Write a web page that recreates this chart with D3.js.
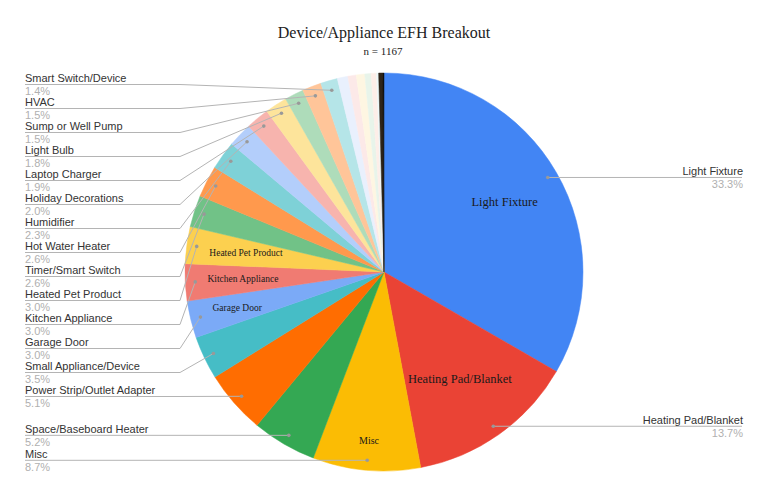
<!DOCTYPE html>
<html>
<head>
<meta charset="utf-8">
<script src="https://cdn.jsdelivr.net/npm/d3@7"></script>
<style>
  body { margin: 0; background: #fff; }
  svg { display: block; }
</style>
</head>
<body>
<div id="chart"></div>
<script>
// Data (n = 1167)
const categories = [
  "Light Fixture", "Heating Pad/Blanket", "Misc", "Space/Baseboard Heater",
  "Power Strip/Outlet Adapter", "Small Appliance/Device", "Garage Door",
  "Kitchen Appliance", "Heated Pet Product", "Timer/Smart Switch",
  "Hot Water Heater", "Humidifier", "Holiday Decorations", "Laptop Charger",
  "Light Bulb", "Sump or Well Pump", "HVAC", "Smart Switch/Device",
  "", "", "", "", "", "", "", ""
];
const counts = [
  389, 160, 102, 61, 60, 41, 35, 35, 35, 30, 30, 27, 23, 22, 21, 18, 18, 16,
  10, 8, 8, 6, 5, 2, 4, 1
];
const colors = [
  "#4285f4", "#ea4335", "#fbbc04", "#34a853", "#ff6d01", "#46bdc6", "#7baaf7",
  "#f07b72", "#fcd04f", "#71c287", "#ff994d", "#7ed1d7", "#b3cefb", "#f7b4ae",
  "#fde49b", "#aedcba", "#ffc599", "#b5e5e8",
  "#e9f0fd", "#fce9e8", "#fef6e2", "#e8f4ea", "#fdeee8", "#edf8f9", "#2e2418", "#111111"
];
const title = "Device/Appliance EFH Breakout";
const subtitle = "n = 1167";

// labels drawn inside slices: radius fraction and font size
const insideLabels = {
  "Light Fixture": { r: 0.70, size: 12.5 },
  "Heating Pad/Blanket": { r: 0.66, size: 12.5 },
  "Misc": { r: 0.85, size: 10 },
  "Heated Pet Product": { r: 0.70, size: 9.5 },
  "Kitchen Appliance": { r: 0.71, size: 9.5 },
  "Garage Door": { r: 0.76, size: 9.5 }
};

const width = 768, height = 497;
const cx = 384, cy = 272, radius = 199;
const total = d3.sum(counts);

const svg = d3.select("#chart").append("svg")
  .attr("width", width)
  .attr("height", height);

svg.append("text")
  .attr("x", 384).attr("y", 32)
  .attr("text-anchor", "middle")
  .attr("dominant-baseline", "central")
  .style("font-family", "'Liberation Serif', 'Times New Roman', serif")
  .style("font-size", "16px")
  .style("fill", "#222")
  .text(title);

svg.append("text")
  .attr("x", 383).attr("y", 51)
  .attr("text-anchor", "middle")
  .attr("dominant-baseline", "central")
  .style("font-family", "'Liberation Serif', 'Times New Roman', serif")
  .style("font-size", "11px")
  .style("fill", "#222")
  .text(subtitle);

const data = categories.map((c, i) => ({ name: c, value: counts[i], color: colors[i] }));

const pie = d3.pie().sort(null).value(d => d.value);
const arcs = pie(data);
const arc = d3.arc().innerRadius(0).outerRadius(radius);
const dotArc = d3.arc().innerRadius(radius * 0.95).outerRadius(radius * 0.95);

const g = svg.append("g").attr("transform", `translate(${cx},${cy})`);

g.selectAll("path.slice")
  .data(arcs)
  .enter()
  .append("path")
  .attr("class", "slice")
  .attr("d", arc)
  .attr("fill", d => d.data.color)
  .attr("stroke", d => d.data.color)
  .attr("stroke-width", 0.5);

// Inside labels
g.selectAll("text.inside")
  .data(arcs.filter(d => insideLabels[d.data.name]))
  .enter()
  .append("text")
  .attr("class", "inside")
  .attr("transform", d => {
    const r = radius * insideLabels[d.data.name].r;
    const c = d3.arc().innerRadius(r).outerRadius(r).centroid(d);
    return `translate(${c})`;
  })
  .attr("text-anchor", "middle")
  .attr("dominant-baseline", "central")
  .style("font-family", "'Liberation Serif', 'Times New Roman', serif")
  .style("font-size", d => insideLabels[d.data.name].size + "px")
  .style("fill", "#1a1a1a")
  .text(d => d.data.name);

// Outside labels
const labelled = arcs.filter(d => d.data.name !== "");
labelled.forEach(d => {
  const p = dotArc.centroid(d);
  d.dot = [p[0] + cx, p[1] + cy];
  d.mid = (d.startAngle + d.endAngle) / 2;
  d.side = d.mid < Math.PI ? "right" : "left";
  d.ly = d.dot[1] - 6.5;
});

// left side: resolve overlaps (bottom-up, then top-down)
const left = labelled.filter(d => d.side === "left").sort((a, b) => a.dot[1] - b.dot[1]);
const gap = 24, labelTop = 78;
for (let i = left.length - 2; i >= 0; i--) {
  left[i].ly = Math.min(left[i].ly, left[i + 1].ly - gap);
}
left[0].ly = Math.max(left[0].ly, labelTop);
for (let i = 1; i < left.length; i++) {
  left[i].ly = Math.max(left[i].ly, left[i - 1].ly + gap);
}

const lines = svg.append("g");
const labelG = svg.append("g")
  .style("font-family", "'Liberation Sans', Arial, sans-serif")
  .style("font-size", "11px");

labelled.forEach(d => {
  const lineY = d.ly + 6.5;
  let pts;
  if (d.side === "left") {
    pts = [[25, lineY], [180, lineY], d.dot];
  } else {
    pts = [d.dot, [742, lineY]];
  }
  lines.append("path")
    .attr("d", d3.line()(pts))
    .attr("fill", "none")
    .attr("stroke", "#b4b4b4")
    .attr("stroke-width", 1);
  lines.append("circle")
    .attr("cx", d.dot[0]).attr("cy", d.dot[1])
    .attr("r", 1.8)
    .attr("fill", "#999");

  const x = d.side === "left" ? 25 : 743;
  const anchor = d.side === "left" ? "start" : "end";
  labelG.append("text")
    .attr("x", x).attr("y", d.ly)
    .attr("text-anchor", anchor)
    .attr("dominant-baseline", "central")
    .style("fill", "#333")
    .text(d.data.name);
  labelG.append("text")
    .attr("x", x).attr("y", d.ly + 13)
    .attr("text-anchor", anchor)
    .attr("dominant-baseline", "central")
    .style("fill", "#b0b0b0")
    .text((d.data.value / total * 100).toFixed(1) + "%");
});
</script>
</body>
</html>
